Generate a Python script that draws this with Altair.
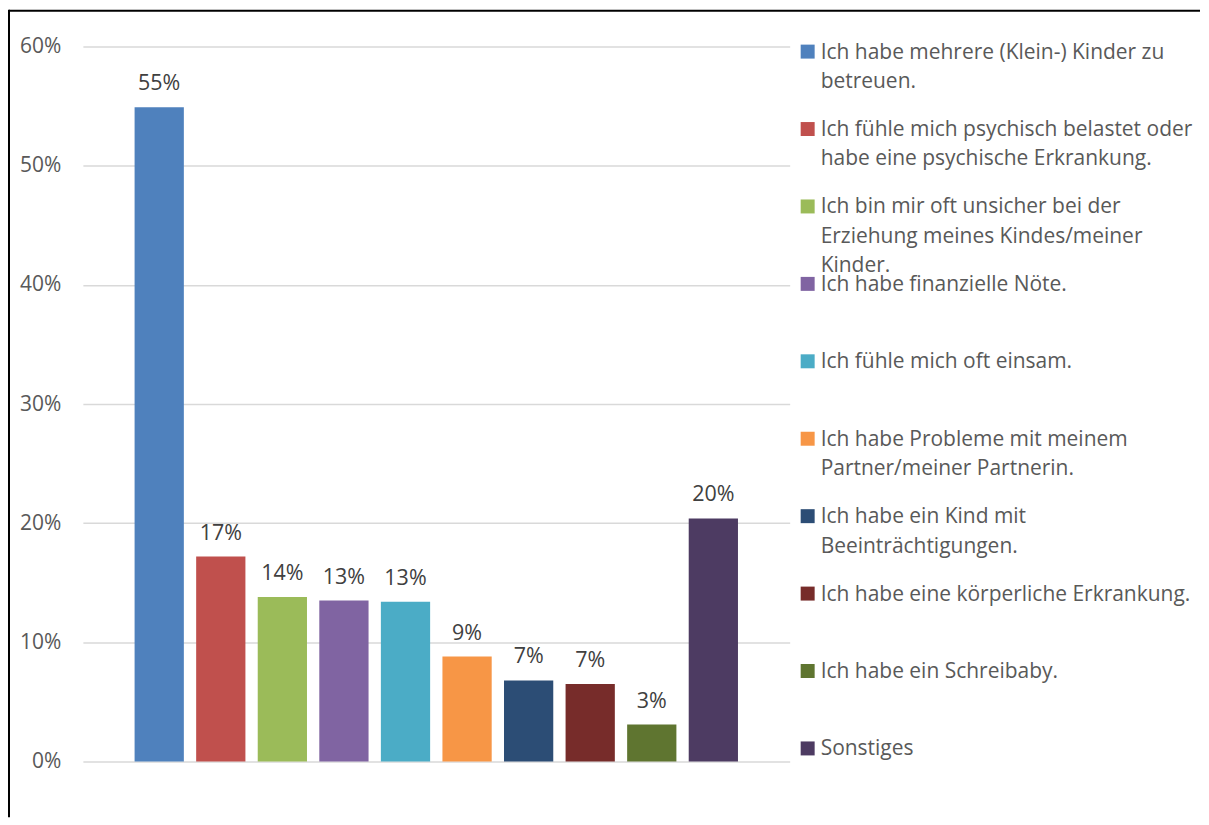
import altair as alt
import pandas as pd

categories = [
    "Ich habe mehrere (Klein-) Kinder zu betreuen.",
    "Ich fühle mich psychisch belastet oder habe eine psychische Erkrankung.",
    "Ich bin mir oft unsicher bei der Erziehung meines Kindes/meiner Kinder.",
    "Ich habe finanzielle Nöte.",
    "Ich fühle mich oft einsam.",
    "Ich habe Probleme mit meinem Partner/meiner Partnerin.",
    "Ich habe ein Kind mit Beeinträchtigungen.",
    "Ich habe eine körperliche Erkrankung.",
    "Ich habe ein Schreibaby.",
    "Sonstiges",
]
legend_text = [
    "Ich habe mehrere (Klein-) Kinder zu\nbetreuen.",
    "Ich fühle mich psychisch belastet oder\nhabe eine psychische Erkrankung.",
    "Ich bin mir oft unsicher bei der\nErziehung meines Kindes/meiner\nKinder.",
    "Ich habe finanzielle Nöte.",
    "Ich fühle mich oft einsam.",
    "Ich habe Probleme mit meinem\nPartner/meiner Partnerin.",
    "Ich habe ein Kind mit\nBeeinträchtigungen.",
    "Ich habe eine körperliche Erkrankung.",
    "Ich habe ein Schreibaby.",
    "Sonstiges",
]
values = [54.9, 17.2, 13.8, 13.5, 13.4, 8.8, 6.8, 6.5, 3.1, 20.4]
value_labels = ["55%", "17%", "14%", "13%", "13%", "9%", "7%", "7%", "3%", "20%"]
colors = ["#4F81BD", "#C0504D", "#9BBB59", "#8064A2", "#4BACC6",
          "#F79646", "#2C4D75", "#772C2A", "#5F7530", "#4D3B62"]
y_ticks = [0, 10, 20, 30, 40, 50, 60]

FONT = "Open Sans"

df = pd.DataFrame({"cat": categories, "value": values, "label": value_labels,
                   "legend": legend_text})

color_scale = alt.Scale(domain=categories, range=colors)

base = alt.Chart(df)

bars = base.mark_bar().encode(
    x=alt.X("cat:N", sort=categories, axis=None,
            scale=alt.Scale(paddingInner=0.2, paddingOuter=0.84)),
    y=alt.Y("value:Q", scale=alt.Scale(domain=[0, 60], nice=False),
            axis=alt.Axis(values=y_ticks, labelExpr="datum.value + '%'",
                          domain=False, ticks=False, grid=True,
                          gridColor="#D9D9D9", gridWidth=1.5,
                          labelFont=FONT, labelFontSize=21, labelColor="#595959",
                          labelPadding=22, title=None)),
    color=alt.Color("cat:N", scale=color_scale, legend=None),
)

bar_text = base.mark_text(dy=-17, baseline="alphabetic", font=FONT, fontSize=21.5,
                          color="#404040").encode(
    x=alt.X("cat:N", sort=categories),
    y=alt.Y("value:Q"),
    text="label:N",
)

leg_y = alt.Y("cat:N", sort=categories, axis=None,
              scale=alt.Scale(type="point", domain=categories, range=[5, 703], padding=0))

leg_sq = base.mark_square(size=196, opacity=1).encode(
    x=alt.value(726),
    y=leg_y,
    color=alt.Color("cat:N", scale=color_scale, legend=None),
)

leg_txt = base.mark_text(align="left", baseline="alphabetic", dy=7, lineBreak="\n",
                         lineHeight=29.5, font=FONT, fontSize=21,
                         color="#595959").encode(
    x=alt.value(739),
    y=leg_y,
    text="legend:N",
)

one = pd.DataFrame({"a": [0]})
top_border = alt.Chart(one).mark_rule(color="black", strokeWidth=2).encode(
    x=alt.value(-74), x2=alt.value(1119), y=alt.value(-36))
left_border = alt.Chart(one).mark_rule(color="black", strokeWidth=2).encode(
    x=alt.value(-74), y=alt.value(-37), y2=alt.value(772))

main = alt.layer(bars, bar_text).properties(width=708, height=716)
legend = alt.layer(leg_sq, leg_txt)

chart = alt.layer(main, legend, top_border, left_border).resolve_scale(
    y="independent"
).properties(
    width=708, height=716, padding=0, background="white"
).configure_view(stroke=None)

chart.save("out.html", embed_options={"renderer": "svg", "actions": False})
